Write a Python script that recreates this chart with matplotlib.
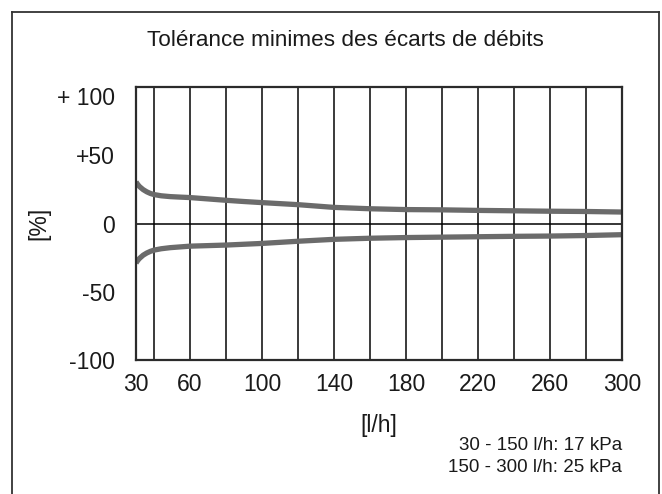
import matplotlib
matplotlib.use("Agg")
import matplotlib.pyplot as plt
from matplotlib.lines import Line2D

plt.rcParams['font.family'] = ['Liberation Sans', 'DejaVu Sans']

# Data
flow = [30, 31, 32, 34, 36, 38, 40, 44, 49, 55, 60, 70, 80, 90, 100, 120, 140, 160, 180, 200, 220, 240, 260, 280, 300]
tol_upper = [30.5, 28.5, 27, 24.8, 23.2, 22, 21.2, 20.3, 19.7, 19.3, 19, 18, 17, 16.1, 15.3, 13.8, 11.8, 10.8, 10.2, 10, 9.6, 9.3, 9.0, 8.8, 8.4]
tol_lower = [-29, -27, -25.5, -23.2, -21.6, -20.4, -19.5, -18.5, -17.7, -17.1, -16.6, -16.2, -15.8, -15.2, -14.6, -13, -11.6, -10.8, -10.3, -10, -9.7, -9.4, -9.2, -8.8, -8.2]

grid_x = [40, 60, 80, 100, 120, 140, 160, 180, 200, 220, 240, 260, 280]
x_ticks = [30, 60, 100, 140, 180, 220, 260, 300]
y_ticks = [100, 50, 0, -50, -100]
y_labels = ["+ 100", "+50", "0", "-50", "-100"]

title = "Tolérance minimes des écarts de débits"
notes = ["30 - 150 l/h: 17 kPa", "150 - 300 l/h: 25 kPa"]

fig = plt.figure(figsize=(6.62, 4.94), dpi=100)
ax = fig.add_axes([136 / 662, 134 / 494, 486 / 662, 273 / 494])

# vertical grid and zero line
for gx in grid_x:
    ax.axvline(gx, color='#2b2b2b', linewidth=1.3, zorder=1)
ax.axhline(0, color='black', linewidth=1.1, zorder=1)

# tolerance curves
ax.plot(flow, tol_upper, color='#6b6b6b', linewidth=3.8, solid_capstyle='butt', zorder=2)
ax.plot(flow, tol_lower, color='#6b6b6b', linewidth=3.8, solid_capstyle='butt', zorder=2)

ax.set_xlim(30, 300)
ax.set_ylim(-100, 100)
ax.set_xticks(x_ticks)
ax.set_yticks(y_ticks)
ax.set_yticklabels(y_labels)
ax.tick_params(axis='both', length=0, labelsize=16.5, colors='#1a1a1a')
ax.tick_params(axis='y', pad=15)
ax.tick_params(axis='x', pad=9.5)
for lab in ax.get_yticklabels():
    if lab.get_text() == "+ 100":
        lab.set_va('top')

for s in ax.spines.values():
    s.set_color('#2b2b2b')
    s.set_linewidth(1.6)

ax.set_xlabel("[l/h]", fontsize=16.5, color='#1a1a1a', labelpad=13)
ax.yaxis.set_label_coords(-(136 - 39) / 486, 0.49)
ax.set_ylabel("[%]", fontsize=16.5, color='#1a1a1a', va='center')

fig.text(345 / 662, 1 - 40 / 494, title, ha='center', va='center', fontsize=16.2, color='#1a1a1a')
fig.text(622 / 662, 1 - 445 / 494, notes[0], ha='right', va='center', fontsize=13.5, color='#1a1a1a')
fig.text(622 / 662, 1 - 467 / 494, notes[1], ha='right', va='center', fontsize=13.5, color='#1a1a1a')

# outer frame (left, top, right)
frame_kw = dict(color='#333333', linewidth=1.3, transform=fig.transFigure)
fig.add_artist(Line2D([12 / 662, 12 / 662], [0, 1 - 12 / 494], **frame_kw))
fig.add_artist(Line2D([12 / 662, 659 / 662], [1 - 12 / 494, 1 - 12 / 494], **frame_kw))
fig.add_artist(Line2D([659 / 662, 659 / 662], [0, 1 - 12 / 494], **frame_kw))

fig.savefig("out.png", dpi=100)
